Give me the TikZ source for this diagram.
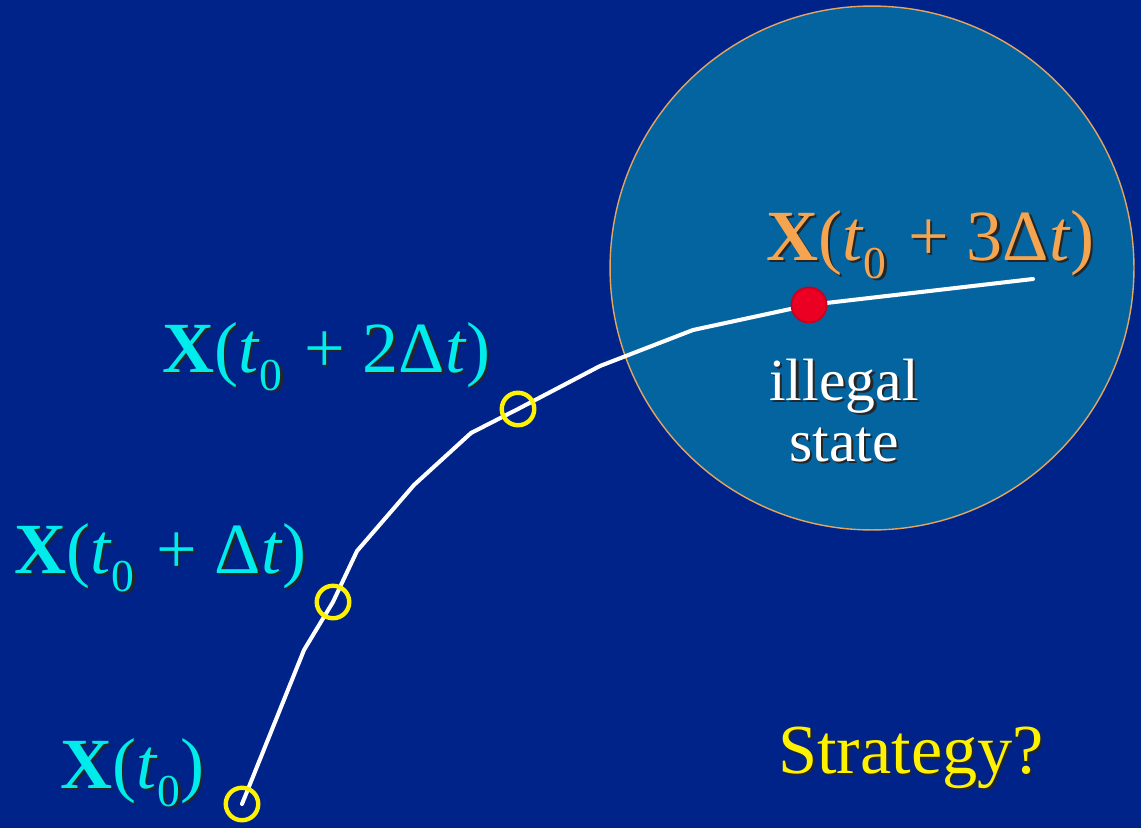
\documentclass[tikz,border=0pt]{standalone}
\usepackage{fontspec}
\setmainfont{Liberation Serif}
\definecolor{bgblue}{RGB}{0,35,138}
\definecolor{discfill}{RGB}{4,100,160}
\definecolor{discedge}{RGB}{230,165,95}
\definecolor{labcyan}{RGB}{0,235,235}
\definecolor{laborange}{RGB}{245,165,80}
\definecolor{dotred}{RGB}{235,0,35}
\definecolor{dotedge}{RGB}{200,0,30}
\newcommand\shd[1]{\leavevmode\rlap{\hspace{1.3pt}\raisebox{-1.3pt}{\color{black!85}#1}}#1}
\newcommand\subzero[1]{\raisebox{-10.5pt}{\fontsize{26}{26}\selectfont #1}}
\newcommand\xlab[1]{\textbf{X}(\textit{t}\subzero{0}#1)}
\begin{document}
\begin{tikzpicture}[x=0.02cm,y=-0.02cm,
  mark circ/.style={circle,draw=yellow,line width=2.5pt,minimum size=18.5pt,inner sep=0pt},
  red dot/.style={circle,fill=dotred,draw=dotedge,line width=1pt,minimum size=20pt,inner sep=0pt},
  eqlab/.style={anchor=base west,inner sep=0pt,font=\fontsize{41}{42}\selectfont},
  traj/.style={white,line width=2.3pt,line join=round,line cap=round}]
\fill[bgblue] (0,0) rectangle (1141,828);
\useasboundingbox (0,0) rectangle (1141,828);
\node[circle,fill=discfill,draw=discedge,line width=0.8pt,minimum size=10.48cm,inner sep=0pt] (disc) at (872,268) {};
\coordinate (a) at (304,650);
\coordinate (b) at (357,551);
\coordinate (d) at (414,485);
\coordinate (e) at (471,433);
\coordinate (f) at (600,366);
\coordinate (g) at (693,330);
\coordinate (end) at (1033,279);
\coordinate (c0) at (242,804);
\coordinate (c1) at (333,602);
\coordinate (c2) at (518,409);
\coordinate (r) at (809,305);
\draw[traj] (c0) -- (a) -- (c1) -- (b) -- (d) -- (e) -- (c2) -- (f) -- (g) -- (r) -- (end);
\node[mark circ] (m0) at (c0) {};
\node[mark circ] (m1) at (c1) {};
\node[mark circ] (m2) at (c2) {};
\node[red dot] (rd) at (r) {};
\node[eqlab,text=labcyan] (l0) at (60,788) {\shd{\xlab{}}};
\node[eqlab,text=labcyan] (l1) at (14,573) {\shd{\xlab{\hspace{0.3em}+\hspace{0.25em}Δ\textit{t}}}};
\node[eqlab,text=labcyan] (l2) at (162,372) {\shd{\xlab{\hspace{0.3em}+\hspace{0.25em}2Δ\textit{t}}}};
\node[eqlab,text=laborange] (l3) at (766,260) {\shd{\xlab{\hspace{0.3em}+\hspace{0.25em}3Δ\textit{t}}}};
\node[anchor=base,inner sep=0pt,text=white,font=\fontsize{34}{34}\selectfont] (ill) at (844,400) {\shd{illegal}};
\node[anchor=base,inner sep=0pt,text=white,font=\fontsize{34}{34}\selectfont] (st) at (844,461) {\shd{state}};
\node[anchor=base west,inner sep=0pt,text=yellow,font=\fontsize{40}{40}\selectfont] (strat) at (778,773) {\shd{Strategy?}};
\end{tikzpicture}
\end{document}
